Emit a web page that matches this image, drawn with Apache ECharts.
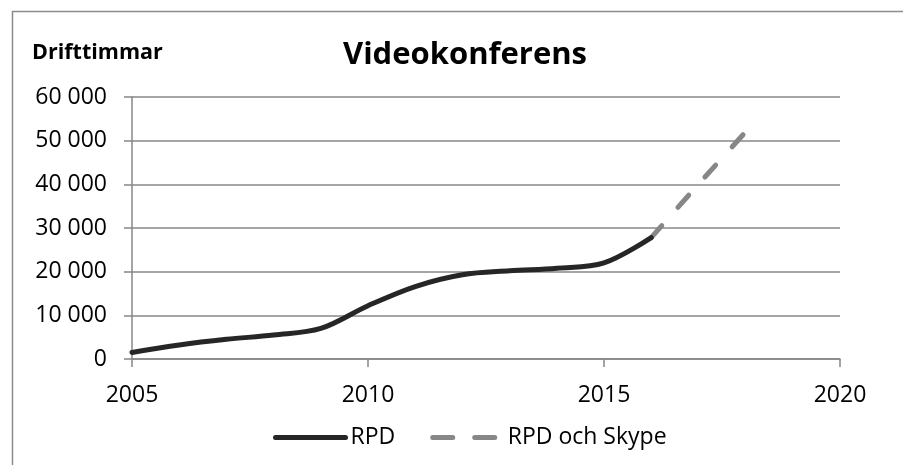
<!DOCTYPE html>
<html>
<head>
<meta charset="utf-8">
<script src="https://cdn.jsdelivr.net/npm/echarts@6/dist/echarts.min.js"></script>
<style>html,body{margin:0;padding:0;background:#fff}#c{width:903px;height:465px}</style>
</head>
<body>
<div id="c"></div>
<script>
var title = 'Videokonferens';
var yAxisTitle = 'Drifttimmar';
var seriesNames = ['RPD', 'RPD och Skype'];
var rpdYears = [2005, 2006, 2007, 2008, 2009, 2010, 2011, 2012, 2013, 2014, 2015, 2016];
var rpdValues = [1500, 3200, 4500, 5500, 7000, 12200, 16600, 19300, 20200, 20800, 22000, 27800];
var skypeYears = [2016, 2017, 2018];
var skypeValues = [27800, 40000, 52000];
var xTicks = [2005, 2010, 2015, 2020];
var yTicks = [0, 10000, 20000, 30000, 40000, 50000, 60000];

function pairs(xs, ys) { return xs.map(function (x, i) { return [x, ys[i]]; }); }
function fmt(v) { return String(v).replace(/\B(?=(\d{3})+(?!\d))/g, ' '); }

var FONT = '"Open Sans", "Noto Sans", sans-serif';
var chart = echarts.init(document.getElementById('c'), null, { renderer: 'canvas' });
chart.setOption({
  backgroundColor: '#ffffff',
  animation: false,
  title: {
    text: title, left: 460, textAlign: 'center', top: 35,
    textStyle: { fontFamily: FONT, fontSize: 31, fontWeight: 'bold', color: '#000' }
  },
  graphic: [
    { type: 'rect', left: 10, top: 9, shape: { width: 1000, height: 1000 }, style: { fill: 'none', stroke: '#8c8c8c', lineWidth: 1.5 } },
    { type: 'text', left: 32, top: 42, style: { text: yAxisTitle, fontFamily: FONT, fontSize: 21.5, fontWeight: 'bold', fill: '#000' } }
  ],
  legend: {
    top: 421, left: 268, itemWidth: 70, itemHeight: 12, itemGap: 35,
    itemStyle: { opacity: 0 },
    lineStyle: { width: 5, cap: 'round' },
    textStyle: { fontFamily: FONT, fontSize: 23, color: '#000' },
    data: [
      { name: seriesNames[0] },
      { name: seriesNames[1], lineStyle: { type: [20, 22], width: 5, cap: 'round' } }
    ]
  },
  grid: { left: 132, right: 63, top: 97, bottom: 106 },
  xAxis: {
    type: 'value', min: xTicks[0], max: xTicks[xTicks.length - 1], interval: 5,
    axisLine: { show: true, lineStyle: { color: '#878787', width: 1.5 } },
    axisTick: { show: true, length: 8, lineStyle: { color: '#878787', width: 1.5 } },
    splitLine: { show: false },
    axisLabel: { margin: 25, fontFamily: FONT, fontSize: 23, color: '#000', formatter: function (v) { return String(v); } }
  },
  yAxis: {
    type: 'value', min: yTicks[0], max: yTicks[yTicks.length - 1], interval: 10000,
    axisLine: { show: true, lineStyle: { color: '#878787', width: 1.5 } },
    axisTick: { show: true, length: 8, lineStyle: { color: '#878787', width: 1.5 } },
    splitLine: { show: true, lineStyle: { color: '#878787', width: 1.5 } },
    axisLabel: { margin: 25, fontFamily: FONT, fontSize: 23, color: '#000', formatter: fmt }
  },
  series: [
    {
      name: seriesNames[0], type: 'line', data: pairs(rpdYears, rpdValues), smooth: 0.35,
      symbol: 'none', lineStyle: { color: '#262626', width: 5, cap: 'round' }, itemStyle: { color: '#262626' }, z: 3
    },
    {
      name: seriesNames[1], type: 'line', data: pairs(skypeYears, skypeValues), smooth: 0.35,
      symbol: 'none', lineStyle: { color: '#878787', width: 5, type: [16, 24.5], cap: 'round' }, itemStyle: { color: '#878787' }, z: 2
    }
  ]
});
</script>
</body>
</html>
